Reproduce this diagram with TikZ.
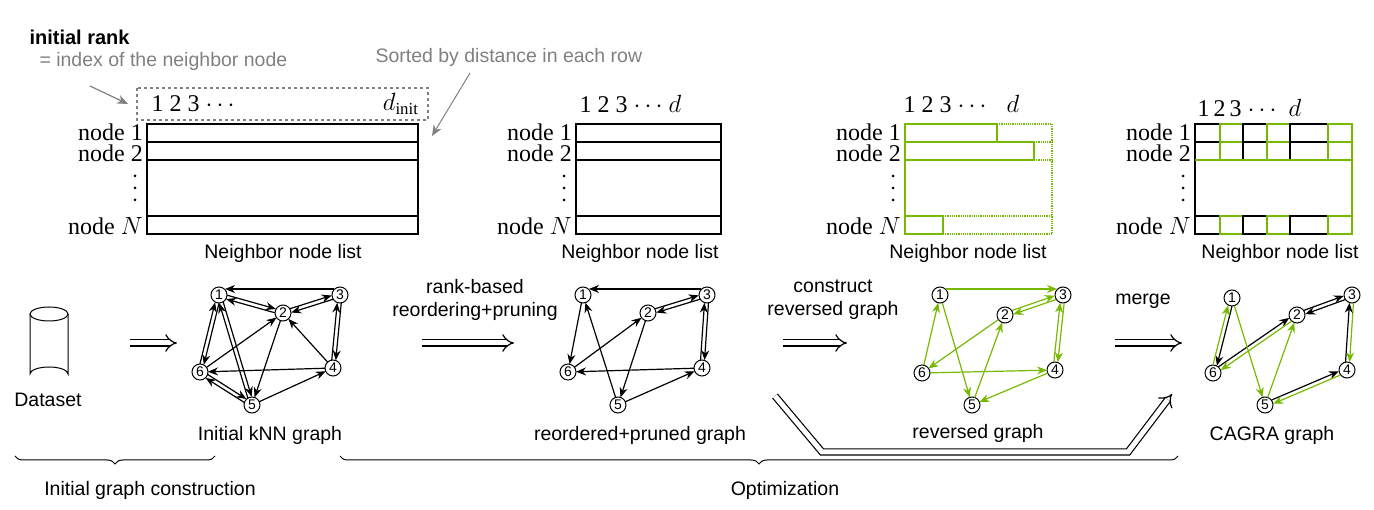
\documentclass[tikz,border=0pt]{standalone}
\usepackage{fontspec}
\setmainfont{Liberation Serif}
\setsansfont{Liberation Sans}
\usetikzlibrary{arrows.meta}
\usetikzlibrary{calc}
\usetikzlibrary{decorations.pathreplacing}
\definecolor{cagreen}{RGB}{118,185,0}
\newcommand\bigsf{\fontsize{19.5pt}{23pt}\selectfont\sffamily}
\newcommand\bigrm{\fontsize{24pt}{26pt}\selectfont\rmfamily}
\tikzset{
    gnode/.style = {circle, draw, line width=1pt, inner sep=0pt, minimum size=16pt, fill=white, font=\fontsize{14pt}{15pt}\selectfont\sffamily},
    edge/.style = {line width=1.2pt, shorten <=8pt, shorten >=8pt, -{Stealth[length=10pt,width=8pt]}},
    gedge/.style = {edge, draw=cagreen},
    hollow/.style = {double, double distance=5pt, line width=1.2pt, -{Implies[length=11pt]}},
    cell/.style = {line width=1.2pt},
    rowlab/.style = {anchor=east, font=\bigrm, inner sep=0pt},
    caption/.style = {font=\bigsf},
}
% single edge and doubled edge between named nodes
\newcommand\arc[3]{\draw[#1] (#2.center) -- (#3.center);}
\newcommand\biarc[4]{%
    \draw[#1] ($(#3)!2pt!90:(#4)$) -- ($(#4)!2pt!-90:(#3)$);
    \draw[#2] ($(#4)!2pt!90:(#3)$) -- ($(#3)!2pt!-90:(#4)$);}
% row labels of a table, right edge at x
\newcommand\rowlabels[1]{%
    \node[rowlab] at (#1,132) {node 1};
    \node[rowlab] at (#1,153) {node 2};
    \node[rowlab] at (#1,226) {node $N$};
    \foreach \y in {176,188,200} \fill (#1-8,\y) circle (1.5pt);}

\begin{document}
\begin{tikzpicture}[x=1pt, y=-1pt]

\useasboundingbox (0,0) rectangle (1374,510);

%% ---------- table 1 : initial kNN ----------
\node[anchor=west, font=\fontsize{20pt}{22pt}\selectfont\sffamily\bfseries] (rank) at (26,37) {initial rank};
\node[anchor=west, font=\bigsf, text=gray] (rankdef) at (36,61) {= index of the neighbor node};
\node[anchor=west, font=\bigsf, text=gray] (sorted) at (372,57) {Sorted by distance in each row};
\draw[gray, dashed, line width=1.3pt] (137,88) rectangle (428,120);
\node[anchor=west, font=\bigrm] (h1) at (148,104) {1 2 3 $\cdots$};
\node[anchor=east, font=\bigrm] (h1d) at (422,104) {$d_{\mathrm{init}}$};
\coordinate (rk) at (128,104);
\coordinate (st) at (432,136);
\draw[gray, line width=1.2pt, -{Stealth[length=11pt,width=9pt]}] (90,86) -- (rk);
\draw[gray, line width=1pt, -{Stealth[length=11pt,width=9pt]}] (470,73) -- (st);
\draw[cell] (147,124) rectangle (418,234);
\foreach \y in {142,160,216} \draw[cell] (147,\y) -- (418,\y);
\rowlabels{143}
\node[caption] (cap1) at (283,253) {Neighbor node list};

%% ---------- table 2 : pruned ----------
\node[anchor=west, font=\bigrm] (h2) at (576,104) {1 2 3 $\cdots$ $d$};
\draw[cell] (576,124) rectangle (721,234);
\foreach \y in {142,160,216} \draw[cell] (576,\y) -- (721,\y);
\rowlabels{572}
\node[caption] (cap2) at (640,253) {Neighbor node list};

%% ---------- table 3 : reversed ----------
\node[anchor=west, font=\bigrm] (h3) at (900,104) {1 2 3 $\cdots$ \hspace{14pt}$d$};
\draw[cagreen, line width=1.2pt, densely dotted] (997,124) -- (1052,124) -- (1052,234) -- (943,234);
\draw[cagreen, line width=1.2pt, densely dotted] (1034,142) -- (1052,142) (1034,160) -- (1052,160) (943,216) -- (1052,216);
\draw[cagreen, cell] (997,124) -- (905,124) -- (905,234) -- (943,234) -- (943,216) -- (905,216);
\draw[cagreen, cell] (997,124) -- (997,142) -- (905,142);
\draw[cagreen, cell] (905,142) -- (1034,142) -- (1034,160) -- (905,160);
\rowlabels{901}
\node[caption] (cap3) at (968,253) {Neighbor node list};

%% ---------- table 4 : CAGRA ----------
\node[anchor=west, font=\bigrm] (h4) at (1194,108) {1\,2\,3 $\cdots$ \hspace{6pt}$d$};
\foreach \xa/\xb/\col in {1195/1220/black, 1220/1243/cagreen, 1243/1267/black, 1267/1290/cagreen, 1290/1328/black, 1328/1352/cagreen}{
    \foreach \ya/\yb in {124/142, 142/160, 216/234}
        \draw[cell, draw=\col] (\xa,\ya) rectangle (\xb,\yb);
    }
\draw[cell] (1195,160) -- (1195,216);
\draw[cell, cagreen] (1352,160) -- (1352,216);
\draw[cell, cagreen] (1195,160) -- (1352,160);
\rowlabels{1191}
\node[caption] (cap4) at (1280,253) {Neighbor node list};

%% ---------- dataset ----------
\draw[line width=1pt] (30,314) -- (30,374) arc[start angle=180, end angle=360, x radius=19, y radius=7] -- (68,314);
\draw[line width=1pt] (49,314) ellipse [x radius=19, y radius=7];
\node[caption] (dblab) at (48,400) {Dataset};

%% ---------- graph 1 : initial kNN ----------
\node[gnode] (a1) at (219,295) {1};
\node[gnode] (a2) at (283,313) {2};
\node[gnode] (a3) at (340,295) {3};
\node[gnode] (a4) at (333,368) {4};
\node[gnode] (a5) at (252,405) {5};
\node[gnode] (a6) at (200,372) {6};
\draw[edge, shorten <=0pt, shorten >=0pt] (a3.north west) -- (a1.north east);
\biarc{edge}{edge}{a1}{a2}
\biarc{edge}{edge}{a2}{a3}
\biarc{edge}{edge}{a3}{a4}
\biarc{edge}{edge}{a5}{a6}
\biarc{edge}{edge}{a6}{a1}
\biarc{edge}{edge}{a1}{a5}
\arc{edge}{a4}{a2}
\arc{edge}{a4}{a6}
\arc{edge}{a6}{a2}
\arc{edge}{a2}{a5}
\arc{edge}{a5}{a4}
\node[caption] (glab1) at (270,435) {Initial kNN graph};

%% ---------- graph 2 : reordered + pruned ----------
\node[gnode] (b1) at (583,295) {1};
\node[gnode] (b2) at (648,313) {2};
\node[gnode] (b3) at (707,295) {3};
\node[gnode] (b4) at (702,368) {4};
\node[gnode] (b5) at (618,405) {5};
\node[gnode] (b6) at (568,372) {6};
\draw[edge, shorten <=0pt, shorten >=0pt] (b3.north west) -- (b1.north east);
\biarc{edge}{edge}{b2}{b3}
\biarc{edge}{edge}{b3}{b4}
\arc{edge}{b1}{b6}
\arc{edge}{b5}{b1}
\arc{edge}{b6}{b2}
\arc{edge}{b4}{b6}
\arc{edge}{b2}{b5}
\arc{edge}{b5}{b4}
\node[caption] (glab2) at (640,435) {reordered+pruned graph};

%% ---------- graph 3 : reversed ----------
\node[gnode] (c1) at (940,295) {1};
\node[gnode] (c2) at (1005,315) {2};
\node[gnode] (c3) at (1063,295) {3};
\node[gnode] (c4) at (1055,370) {4};
\node[gnode] (c5) at (972,405) {5};
\node[gnode] (c6) at (922,373) {6};
\draw[gedge, shorten <=0pt, shorten >=0pt] (c1.north east) -- (c3.north west);
\biarc{gedge}{gedge}{c2}{c3}
\biarc{gedge}{gedge}{c3}{c4}
\arc{gedge}{c6}{c1}
\arc{gedge}{c1}{c5}
\arc{gedge}{c2}{c6}
\arc{gedge}{c5}{c2}
\arc{gedge}{c6}{c4}
\arc{gedge}{c4}{c5}
\node[caption] (glab3) at (978,433) {reversed graph};

%% ---------- graph 4 : CAGRA ----------
\node[gnode] (d1) at (1232,298) {1};
\node[gnode] (d2) at (1297,315) {2};
\node[gnode] (d3) at (1352,295) {3};
\node[gnode] (d4) at (1347,370) {4};
\node[gnode] (d5) at (1265,405) {5};
\node[gnode] (d6) at (1213,373) {6};
\biarc{edge}{edge}{d2}{d3}
\biarc{gedge}{edge}{d3}{d4}
\biarc{edge}{gedge}{d1}{d6}
\biarc{edge}{gedge}{d6}{d2}
\biarc{edge}{gedge}{d5}{d4}
\arc{gedge}{d1}{d5}
\arc{gedge}{d5}{d2}
\node[caption] (glab4) at (1272,435) {CAGRA graph};

%% ---------- process arrows ----------
\coordinate (p0a) at (130,343);  \coordinate (p0b) at (177,343);
\coordinate (p1a) at (422,343);  \coordinate (p1b) at (514,343);
\coordinate (p2a) at (783,343);  \coordinate (p2b) at (847,343);
\coordinate (p3a) at (1115,343); \coordinate (p3b) at (1182,343);
\foreach \p in {0,1,2,3} \draw[hollow] (p\p a) -- (p\p b);
\coordinate (lg0) at (775,396);
\coordinate (lg1) at (1172,394);
\draw[hollow] (lg0) -- (822,452) -- (1128,452) -- (lg1);
\node[caption, align=center] (op1) at (475,300) {rank-based\\reordering+pruning};
\node[caption, align=center] (op2) at (833,300) {construct\\reversed graph};
\node[caption] (op3) at (1143,301) {merge};

%% ---------- braces ----------
\draw[line width=1pt, decorate, decoration={brace, mirror, amplitude=8pt}] (15,456) -- (215,456);
\draw[line width=1pt, decorate, decoration={brace, mirror, amplitude=8pt}] (340,456) -- (1178,456);
\node[caption] (ph1) at (150,490) {Initial graph construction};
\node[caption] (ph2) at (785,490) {Optimization};

\end{tikzpicture}
\end{document}
